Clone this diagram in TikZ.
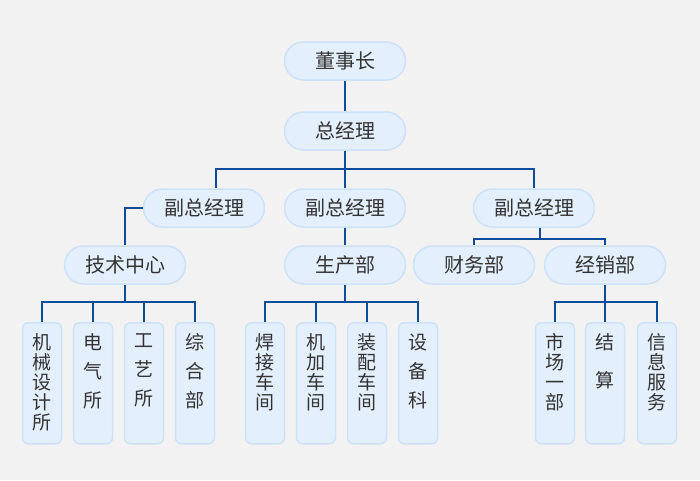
\documentclass[tikz,border=0pt]{standalone}
\usepackage{fontspec}
\newfontfamily\cjk{Noto Sans CJK SC}
\usetikzlibrary{calc}
\definecolor{bgray}{HTML}{F2F2F2}
\definecolor{boxfill}{HTML}{E3EFFC}
\definecolor{boxline}{HTML}{CDE2F8}
\definecolor{linkblue}{HTML}{0D4C9B}
\definecolor{txtgray}{HTML}{333333}
% text of the upright boxes, stacked from the top
\newcommand{\colstack}[1]{\parbox[t][99pt][t]{22pt}{\centering #1}}

\begin{document}
\begin{tikzpicture}[x=1pt,y=-1pt,
  pill/.style={draw=boxline,fill=boxfill,line width=1.5pt,rounded corners=19pt,
    minimum width=121pt,minimum height=38pt,text=txtgray,
    font=\cjk\fontsize{20}{22}\selectfont},
  unit/.style={draw=boxline,fill=boxfill,line width=1.5pt,rounded corners=6pt,
    minimum width=39pt,minimum height=121pt,inner sep=0pt,anchor=north,
    text=txtgray,font=\cjk\fontsize{19}{20}\selectfont},
  link/.style={draw=linkblue,line width=2pt}]
\fill[bgray] (0,0) rectangle (700,480);
% Top of the chart
\node[pill] (dsz) at (345,61) {董事长};
\node[pill] (zjl) at (345,131) {总经理};
\node[pill] (fz1) at (204,208) {副总经理};
\node[pill] (fz2) at (345,208) {副总经理};
\node[pill] (fz3) at (534,208) {副总经理};
% Departments
\node[pill] (jszx) at (125,265) {技术中心};
\node[pill] (scb) at (345,265) {生产部};
\node[pill] (cwb) at (474,265) {财务部};
\node[pill] (jxb) at (605,265) {经销部};
% Units of the technical centre
\node[unit] (jxs) at (42,322) {\colstack{机\\械\\设\\计\\所}};
\node[unit] (dqs) at (93,322) {\colstack{电\\[9pt]气\\[9pt]所}};
\node[unit] (gys) at (144,322) {\colstack{工\\[9pt]艺\\[9pt]所}};
\node[unit] (zhb) at (195,322) {\colstack{综\\[9pt]合\\[9pt]部}};
% Units of production
\node[unit] (hjcj) at (265,322) {\colstack{焊\\接\\车\\间}};
\node[unit] (jjcj) at (316,322) {\colstack{机\\加\\车\\间}};
\node[unit] (zpcj) at (367,322) {\colstack{装\\配\\车\\间}};
\node[unit] (sbk) at (418,322) {\colstack{设\\[9pt]备\\[9pt]科}};
% Units of sales
\node[unit] (scyb) at (555,322) {\colstack{市\\场\\一\\部}};
\node[unit] (js) at (605,322) {\colstack{结\\[18pt]算}};
\node[unit] (xxfw) at (657,322) {\colstack{信\\息\\服\\务}};
% Bus points
\coordinate (bus1) at (345,169);
\coordinate (bus2) at (540,239);
\coordinate (bus3) at (125,302);
\coordinate (bus4) at (345,302);
\coordinate (bus5) at (605,302);
% Connectors
\draw[link] (dsz) -- (zjl);
\draw[link] (zjl) -- (bus1) -- (fz2);
\draw[link] ([xshift=12pt]fz1.north) |- (bus1) -| (fz3.north);
\draw[link] (fz1.west) -| (jszx.north);
\draw[link] (fz2) -- (scb);
\draw[link] ([xshift=6pt]fz3.south) -- (bus2);
\draw[link] (cwb.north) |- (bus2) -| (jxb.north);
\draw[link] (jszx.south) -- (bus3);
\draw[link] (jxs.north) |- (bus3) -| (zhb.north);
\draw[link] (dqs.north) |- (bus3);
\draw[link] (gys.north) |- (bus3);
\draw[link] (scb) -- (bus4);
\draw[link] (hjcj.north) |- (bus4) -| (sbk.north);
\draw[link] (jjcj.north) |- (bus4);
\draw[link] (zpcj.north) |- (bus4);
\draw[link] (jxb) -- (bus5) -- (js.north);
\draw[link] (scyb.north) |- (bus5) -| (xxfw.north);
\end{tikzpicture}
\end{document}
